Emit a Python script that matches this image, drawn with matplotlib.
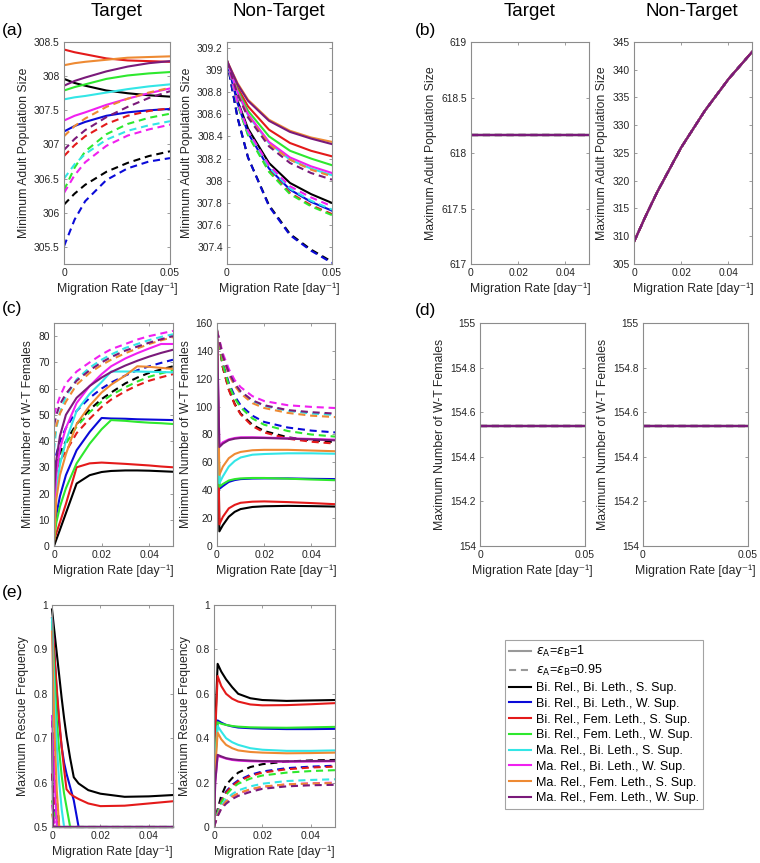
import matplotlib
matplotlib.use('Agg')
import matplotlib.pyplot as plt
from matplotlib.lines import Line2D
from matplotlib.ticker import FormatStrFormatter

plt.rcParams['font.family'] = ['Liberation Sans', 'DejaVu Sans']
plt.rcParams['mathtext.fontset'] = 'dejavusans'

# scheme names and colours (same order in every panel)
SCHEMES = ['Bi. Rel., Bi. Leth., S. Sup.', 'Bi. Rel., Bi. Leth., W. Sup.',
           'Bi. Rel., Fem. Leth., S. Sup.', 'Bi. Rel., Fem. Leth., W. Sup.',
           'Ma. Rel., Bi. Leth., S. Sup.', 'Ma. Rel., Bi. Leth., W. Sup.',
           'Ma. Rel., Fem. Leth., S. Sup.', 'Ma. Rel., Fem. Leth., W. Sup.']
COLORS = ['#000000', '#0a0ad8', '#e41a1a', '#2ee82e',
          '#33e6e6', '#f020f0', '#ee8a33', '#7a1a7a']

# (a) minimum adult population size
XA = [0, 0.005, 0.01, 0.02, 0.03, 0.04, 0.05]
A_TGT_SOLID = [
    [307.96, 307.90, 307.86, 307.79, 307.75, 307.72, 307.70],
    [307.19, 307.27, 307.33, 307.42, 307.47, 307.50, 307.52],
    [308.39, 308.35, 308.32, 308.26, 308.23, 308.22, 308.21],
    [307.79, 307.84, 307.88, 307.96, 308.01, 308.04, 308.06],
    [307.66, 307.69, 307.71, 307.76, 307.81, 307.85, 307.88],
    [307.35, 307.42, 307.47, 307.58, 307.67, 307.75, 307.82],
    [308.16, 308.19, 308.21, 308.24, 308.27, 308.28, 308.29],
    [307.86, 307.93, 307.98, 308.07, 308.14, 308.19, 308.22]]
A_TGT_DASH = [
    [306.12, 306.28, 306.41, 306.60, 306.73, 306.83, 306.90],
    [305.51, 305.90, 306.17, 306.48, 306.65, 306.75, 306.80],
    [306.83, 306.99, 307.12, 307.30, 307.42, 307.49, 307.53],
    [306.33, 306.66, 306.90, 307.15, 307.30, 307.39, 307.45],
    [306.50, 306.71, 306.86, 307.07, 307.20, 307.28, 307.34],
    [306.29, 306.55, 306.74, 306.98, 307.13, 307.22, 307.29],
    [307.12, 307.27, 307.38, 307.55, 307.67, 307.76, 307.83],
    [306.92, 307.08, 307.21, 307.40, 307.55, 307.68, 307.78]]
A_NT_SOLID = [
    [309.08, 308.72, 308.47, 308.16, 307.98, 307.88, 307.80],
    [309.08, 308.70, 308.43, 308.11, 307.92, 307.81, 307.73],
    [309.08, 308.84, 308.67, 308.46, 308.34, 308.27, 308.22],
    [309.08, 308.82, 308.63, 308.40, 308.27, 308.20, 308.14],
    [309.08, 308.79, 308.59, 308.34, 308.19, 308.11, 308.05],
    [309.08, 308.80, 308.60, 308.35, 308.21, 308.13, 308.07],
    [309.08, 308.88, 308.73, 308.55, 308.45, 308.39, 308.35],
    [309.08, 308.87, 308.72, 308.54, 308.44, 308.38, 308.33]]
A_NT_DASH = [
    [309.08, 308.57, 308.21, 307.78, 307.52, 307.38, 307.27],
    [309.08, 308.57, 308.21, 307.77, 307.51, 307.37, 307.26],
    [309.08, 308.69, 308.42, 308.09, 307.89, 307.78, 307.70],
    [309.08, 308.69, 308.41, 308.08, 307.88, 307.77, 307.69],
    [309.08, 308.70, 308.44, 308.12, 307.93, 307.82, 307.74],
    [309.08, 308.71, 308.45, 308.14, 307.95, 307.85, 307.77],
    [309.08, 308.79, 308.58, 308.33, 308.19, 308.10, 308.04],
    [309.08, 308.78, 308.57, 308.31, 308.16, 308.07, 308.01]]

# (b) maximum adult population size
XB = [0, 0.005, 0.01, 0.02, 0.03, 0.04, 0.05]
B_TGT = [618.16, 618.16, 618.16, 618.16, 618.16, 618.16, 618.16]
B_NT = [309.0, 313.7, 318.1, 326.0, 332.6, 338.3, 343.2]

# (c) minimum number of W-T females
XC = [0, 0.001, 0.0025, 0.005, 0.0095, 0.015, 0.02, 0.024, 0.03, 0.035, 0.04, 0.045, 0.05]
C_TGT_SOLID = [
    [0, 2.5, 6.2, 12.5, 23.8, 27.0, 28.2, 28.6, 28.8, 28.8, 28.7, 28.5, 28.3],
    [4, 12, 19, 27, 36.5, 43.5, 48.8, 48.6, 48.5, 48.3, 48.2, 48.1, 48.0],
    [2, 5, 9, 16, 30.0, 31.5, 31.8, 31.6, 31.3, 31.0, 30.7, 30.3, 30.0],
    [2, 9, 15, 22, 31.5, 39, 44.5, 48.0, 47.7, 47.3, 47.0, 46.8, 46.5],
    [8, 22, 31, 40, 51.5, 58, 62.5, 66.5, 66.5, 66.5, 66.4, 66.3, 66.2],
    [14, 28, 37, 45, 54.5, 61, 65.5, 68.5, 71.5, 73.5, 75.3, 77, 77],
    [1, 18, 27, 35, 46.5, 53.5, 58.5, 61.5, 65, 68.5, 68.3, 67.9, 67.5],
    [20, 33, 42, 50, 56.5, 61, 64.2, 66.3, 68.8, 70.6, 72.2, 73.6, 74.8]]
C_TGT_DASH = [
    [26, 31, 35.5, 40, 46.5, 52, 56, 58.5, 62, 64.2, 66, 67.3, 68.5],
    [30, 35, 40, 45, 51.5, 56.5, 60, 62.3, 65, 67, 68.5, 69.8, 71],
    [25, 29, 32.5, 36, 43, 48.5, 53, 55.8, 59, 61.2, 63, 64.3, 65.5],
    [22, 28, 33.5, 39, 45.5, 51, 55, 57.5, 60.5, 62.7, 64.5, 65.8, 67],
    [36.5, 45, 51, 57, 63.5, 68, 71, 73, 75.5, 77, 78.5, 79.7, 80.7],
    [50, 53, 57, 62, 66.5, 70, 73, 75, 77, 78.7, 80, 81, 82],
    [41, 46, 50.5, 55, 61.5, 66, 69, 71, 73.5, 75.3, 77, 78.4, 79.6],
    [46, 50, 54, 58, 63, 67, 70, 72, 74.5, 76, 77.5, 78.8, 80]]
XC_NT = [0, 0.001, 0.0025, 0.005, 0.0075, 0.01, 0.015, 0.02, 0.03, 0.04, 0.05]
C_NT_SOLID = [
    [154.5, 10.5, 15, 21, 24.5, 26.5, 28, 28.5, 28.8, 28.6, 28.3],
    [154.5, 41, 43, 46, 47.3, 48, 48.4, 48.5, 48.5, 48.2, 48],
    [154.5, 15.5, 21, 27, 29.5, 31, 31.8, 32, 31.5, 30.8, 30],
    [154.5, 42.5, 44.5, 47, 48, 48.5, 48.8, 48.8, 48.3, 47.7, 47.2],
    [154.5, 45, 50, 57, 61, 63.5, 65.5, 66, 66.5, 66.5, 66.2],
    [154.5, 72, 74.5, 76.5, 77.5, 78, 78, 77.8, 77.3, 76.8, 76.3],
    [154.5, 51, 57, 63, 66, 67.5, 68.7, 69, 69, 68.5, 68],
    [154.5, 71, 73.5, 76, 77, 77.5, 77.6, 77.5, 77, 76.5, 75.8]]
C_NT_DASH = [
    [154.5, 144, 128, 112.5, 102, 95, 87, 82.5, 78, 75.8, 74.5],
    [154.5, 145, 131, 117, 107.5, 101, 93.5, 89, 85, 82.8, 81.5],
    [154.5, 144, 128, 112, 101.5, 94.5, 86, 81.5, 77, 74.8, 73.5],
    [154.5, 145, 130, 115.5, 106, 99.5, 91.5, 87, 82.5, 80, 78.5],
    [154.5, 147, 136, 124, 116, 110.5, 104, 100.5, 97, 95, 94],
    [154.5, 148, 138, 127, 119, 114, 107.5, 104, 101, 99.8, 99],
    [154.5, 146.5, 135, 123, 115, 109.5, 102.5, 99, 95.5, 93.5, 92.5],
    [154.5, 147, 136, 124.5, 116.5, 111, 104.5, 101, 97.5, 96, 95]]

# (d) maximum number of W-T females
XD = [0, 0.05]
D_TGT = [154.54, 154.54]
D_NT = [154.54, 154.54]

# (e) maximum rescue frequency
XE = [0, 0.0005, 0.001, 0.002, 0.003, 0.004, 0.005, 0.006, 0.0075, 0.009, 0.011, 0.015, 0.02, 0.03, 0.04, 0.05]
E_TGT_SOLID = [
    [0.99, 0.965, 0.94, 0.89, 0.84, 0.79, 0.745, 0.705, 0.655, 0.612, 0.598, 0.583, 0.575, 0.568, 0.569, 0.572],
    [0.97, 0.93, 0.89, 0.80, 0.73, 0.68, 0.645, 0.62, 0.59, 0.56, 0.5, 0.5, 0.5, 0.5, 0.5, 0.5],
    [0.97, 0.93, 0.89, 0.81, 0.74, 0.68, 0.63, 0.585, 0.575, 0.569, 0.563, 0.553, 0.547, 0.548, 0.553, 0.558],
    [0.96, 0.90, 0.84, 0.74, 0.67, 0.615, 0.575, 0.545, 0.5, 0.5, 0.5, 0.5, 0.5, 0.5, 0.5, 0.5],
    [0.97, 0.88, 0.80, 0.68, 0.60, 0.54, 0.5, 0.5, 0.5, 0.5, 0.5, 0.5, 0.5, 0.5, 0.5, 0.5],
    [0.75, 0.68, 0.62, 0.5, 0.5, 0.5, 0.5, 0.5, 0.5, 0.5, 0.5, 0.5, 0.5, 0.5, 0.5, 0.5],
    [0.94, 0.82, 0.72, 0.58, 0.5, 0.5, 0.5, 0.5, 0.5, 0.5, 0.5, 0.5, 0.5, 0.5, 0.5, 0.5],
    [0.71, 0.5, 0.5, 0.5, 0.5, 0.5, 0.5, 0.5, 0.5, 0.5, 0.5, 0.5, 0.5, 0.5, 0.5, 0.5]]
E_TGT_DASH = [
    [0.74, 0.69, 0.64, 0.56, 0.5, 0.5, 0.5, 0.5, 0.5, 0.5, 0.5, 0.5, 0.5, 0.5, 0.5, 0.5],
    [0.62, 0.58, 0.55, 0.51, 0.5, 0.5, 0.5, 0.5, 0.5, 0.5, 0.5, 0.5, 0.5, 0.5, 0.5, 0.5],
    [0.62, 0.59, 0.56, 0.52, 0.5, 0.5, 0.5, 0.5, 0.5, 0.5, 0.5, 0.5, 0.5, 0.5, 0.5, 0.5],
    [0.56, 0.545, 0.53, 0.51, 0.5, 0.5, 0.5, 0.5, 0.5, 0.5, 0.5, 0.5, 0.5, 0.5, 0.5, 0.5],
    [0.53, 0.52, 0.51, 0.5, 0.5, 0.5, 0.5, 0.5, 0.5, 0.5, 0.5, 0.5, 0.5, 0.5, 0.5, 0.5],
    [0.55, 0.53, 0.51, 0.5, 0.5, 0.5, 0.5, 0.5, 0.5, 0.5, 0.5, 0.5, 0.5, 0.5, 0.5, 0.5],
    [0.53, 0.515, 0.5, 0.5, 0.5, 0.5, 0.5, 0.5, 0.5, 0.5, 0.5, 0.5, 0.5, 0.5, 0.5, 0.5],
    [0.5, 0.5, 0.5, 0.5, 0.5, 0.5, 0.5, 0.5, 0.5, 0.5, 0.5, 0.5, 0.5, 0.5, 0.5, 0.5]]
XE_NT = [0, 0.0005, 0.0015, 0.003, 0.005, 0.0075, 0.01, 0.015, 0.02, 0.03, 0.04, 0.05]
E_NT_SOLID = [
    [0, 0.45, 0.735, 0.70, 0.665, 0.63, 0.60, 0.58, 0.572, 0.568, 0.57, 0.572],
    [0, 0.30, 0.48, 0.47, 0.46, 0.453, 0.448, 0.445, 0.443, 0.441, 0.441, 0.442],
    [0, 0.42, 0.68, 0.635, 0.60, 0.578, 0.565, 0.552, 0.548, 0.549, 0.553, 0.558],
    [0, 0.30, 0.472, 0.465, 0.46, 0.455, 0.452, 0.449, 0.448, 0.447, 0.449, 0.451],
    [0, 0.28, 0.455, 0.43, 0.40, 0.382, 0.37, 0.355, 0.348, 0.343, 0.343, 0.345],
    [0, 0.20, 0.32, 0.315, 0.308, 0.302, 0.299, 0.296, 0.295, 0.294, 0.295, 0.296],
    [0, 0.26, 0.425, 0.395, 0.37, 0.355, 0.345, 0.338, 0.335, 0.332, 0.333, 0.335],
    [0, 0.20, 0.325, 0.318, 0.31, 0.305, 0.302, 0.299, 0.297, 0.296, 0.297, 0.298]]
E_NT_DASH = [
    [0, 0.03, 0.08, 0.14, 0.19, 0.22, 0.245, 0.27, 0.283, 0.295, 0.30, 0.302],
    [0, 0.025, 0.07, 0.12, 0.16, 0.19, 0.21, 0.235, 0.25, 0.265, 0.272, 0.276],
    [0, 0.025, 0.068, 0.117, 0.155, 0.185, 0.205, 0.23, 0.245, 0.26, 0.268, 0.272],
    [0, 0.024, 0.065, 0.11, 0.145, 0.175, 0.195, 0.218, 0.232, 0.245, 0.252, 0.256],
    [0, 0.02, 0.056, 0.095, 0.125, 0.148, 0.165, 0.183, 0.195, 0.207, 0.212, 0.215],
    [0, 0.018, 0.052, 0.088, 0.115, 0.136, 0.15, 0.168, 0.18, 0.192, 0.197, 0.20],
    [0, 0.018, 0.052, 0.088, 0.115, 0.137, 0.152, 0.17, 0.182, 0.192, 0.196, 0.198],
    [0, 0.017, 0.048, 0.082, 0.105, 0.126, 0.14, 0.158, 0.172, 0.183, 0.188, 0.19]]

W, H = 760, 863
LW = 1.5
GRAY = '#8c8c8c'
TXT = '#262626'


def make_ax(fig, left, right, top, bottom):
    ax = fig.add_axes([left / W, 1 - bottom / H, (right - left) / W, (bottom - top) / H])
    for s in ax.spines.values():
        s.set_color(GRAY)
        s.set_linewidth(0.8)
    ax.tick_params(direction='in', top=True, right=True, length=2.5, width=0.6,
                   color=GRAY, labelsize=7.4, labelcolor=TXT, pad=3)
    ax.set_xlim(0, 0.05)
    ax.set_xlabel('Migration Rate [day\u207b\u00b9]', fontsize=8.8, color=TXT, labelpad=3)
    return ax


def draw(ax, x, solid, dash, xd=None, clip=True):
    if xd is None:
        xd = x
    for i in range(8):
        ax.plot(x, solid[i], color=COLORS[i], lw=LW, clip_on=clip)
        ax.plot(xd, dash[i], color=COLORS[i], lw=LW, dashes=(3.4, 2.3), clip_on=clip)


def ylab(ax, text):
    ax.set_ylabel(text, fontsize=8.8, color=TXT, labelpad=3)


fig = plt.figure(figsize=(W / 100, H / 100), dpi=100)

# (a)
ax = make_ax(fig, 64, 170, 42, 264)
draw(ax, XA, A_TGT_SOLID, A_TGT_DASH)
ax.set_ylim(305.25, 308.5)
ax.set_yticks([305.5, 306, 306.5, 307, 307.5, 308, 308.5])
ax.set_xticks([0, 0.05])
ylab(ax, 'Minimum Adult Population Size')
ax = make_ax(fig, 227, 332, 42, 264)
draw(ax, XA, A_NT_SOLID, A_NT_DASH)
ax.set_ylim(307.25, 309.25)
ax.set_yticks([307.4, 307.6, 307.8, 308, 308.2, 308.4, 308.6, 308.8, 309, 309.2])
ax.set_xticks([0, 0.05])
ylab(ax, 'Minimum Adult Population Size')

# (b)
ax = make_ax(fig, 471, 589, 42, 264)
draw(ax, XB, [B_TGT] * 8, [B_TGT] * 8)
ax.set_ylim(617, 619)
ax.set_yticks([617, 617.5, 618, 618.5, 619])
ax.set_xticks([0, 0.02, 0.04])
ylab(ax, 'Maximum Adult Population Size')
ax = make_ax(fig, 634, 752, 42, 264)
draw(ax, XB, [B_NT] * 8, [B_NT] * 8)
ax.set_ylim(305, 345)
ax.set_yticks(range(305, 346, 5))
ax.set_xticks([0, 0.02, 0.04])
ylab(ax, 'Maximum Adult Population Size')

# (c)
ax = make_ax(fig, 54, 173, 323, 546)
draw(ax, XC, C_TGT_SOLID, C_TGT_DASH)
ax.set_ylim(0, 85)
ax.set_yticks(range(0, 81, 10))
ax.set_xticks([0, 0.02, 0.04])
ylab(ax, 'Minimum Number of W-T Females')
ax = make_ax(fig, 217, 335, 323, 546)
draw(ax, XC_NT, C_NT_SOLID, C_NT_DASH)
ax.set_ylim(0, 160)
ax.set_yticks(range(0, 161, 20))
ax.set_xticks([0, 0.02, 0.04])
ylab(ax, 'Minimum Number of W-T Females')

# (d)
for l, r, vals in [(480, 585, D_TGT), (643, 748, D_NT)]:
    ax = make_ax(fig, l, r, 323, 546)
    draw(ax, XD, [vals] * 8, [vals] * 8)
    ax.set_ylim(154, 155)
    ax.set_yticks([154, 154.2, 154.4, 154.6, 154.8, 155])
    ax.set_xticks([0, 0.05])
    ylab(ax, 'Maximum Number of W-T Females')

# (e)
ax = make_ax(fig, 52, 173, 605, 827)
draw(ax, XE, E_TGT_SOLID, E_TGT_DASH, clip=False)
ax.set_ylim(0.5, 1)
ax.set_yticks([0.5, 0.6, 0.7, 0.8, 0.9, 1])
ax.set_xticks([0, 0.02, 0.04])
ylab(ax, 'Maximum Rescue Frequency')
ax = make_ax(fig, 214, 335, 605, 827)
draw(ax, XE_NT, E_NT_SOLID, E_NT_DASH)
ax.set_ylim(0, 1)
ax.set_yticks([0, 0.2, 0.4, 0.6, 0.8, 1])
ax.set_xticks([0, 0.02, 0.04])
ylab(ax, 'Maximum Rescue Frequency')

for a in fig.axes:
    a.xaxis.set_major_formatter(FormatStrFormatter('%g'))
    a.yaxis.set_major_formatter(FormatStrFormatter('%g'))

# column titles and panel letters
for xc, t in [(117, 'Target'), (279, 'Non-Target'), (530, 'Target'), (692, 'Non-Target')]:
    fig.text(xc / W, 1 - 11 / H, t, fontsize=13.5, ha='center', va='center')
for xl, yl, t in [(2, 31, '(a)'), (415, 31, '(b)'), (2, 309, '(c)'), (415, 310, '(d)'), (2, 593, '(e)')]:
    fig.text(xl / W, 1 - yl / H, t, fontsize=12.5, ha='left', va='center')

# legend
handles = [Line2D([], [], color='#999999', lw=LW),
           Line2D([], [], color='#999999', lw=LW, dashes=(3.4, 2.3))]
labels = [r'$\epsilon_\mathrm{A}$=$\epsilon_\mathrm{B}$=1', r'$\epsilon_\mathrm{A}$=$\epsilon_\mathrm{B}$=0.95']
for c, s in zip(COLORS, SCHEMES):
    handles.append(Line2D([], [], color=c, lw=LW))
    labels.append(s)
leg = fig.legend(handles, labels, loc='upper left', bbox_to_anchor=(505 / W, 1 - 640 / H),
                 fontsize=9.0, frameon=True, fancybox=False, edgecolor=GRAY,
                 handlelength=1.75, handletextpad=0.35, labelspacing=0.3, borderpad=0.35,
                 borderaxespad=0)
leg.get_frame().set_linewidth(0.8)

fig.savefig('out.png', dpi=100)
